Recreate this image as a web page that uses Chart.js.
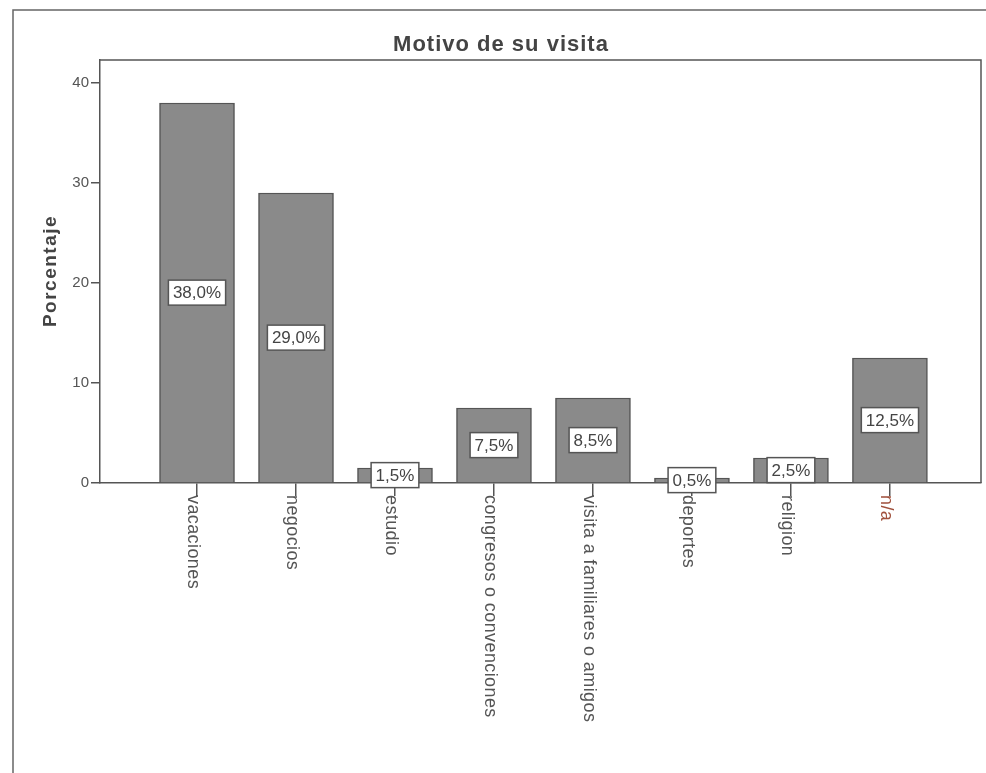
<!DOCTYPE html>
<html>
<head>
<meta charset="utf-8">
<script src="https://cdn.jsdelivr.net/npm/chart.js@4/dist/chart.umd.min.js"></script>
<style>
  body { margin: 0; background: #fff; }
  canvas { display: block; }
</style>
</head>
<body>
<canvas id="visit-chart" width="986" height="773"></canvas>
<script>
const categories = ['vacaciones', 'negocios', 'estudio', 'congresos o convenciones',
  'visita a familiares o amigos', 'deportes', 'religion', 'n/a'];
const percentages = [38.0, 29.0, 1.5, 7.5, 8.5, 0.5, 2.5, 12.5];
const yTicks = [0, 10, 20, 30, 40];
const labelColors = ['#555', '#555', '#555', '#555', '#555', '#555', '#555', '#a0503c'];

const FONT = "'Liberation Sans', Arial, sans-serif";
const INK = '#555';

function pct(v) {
  return v.toFixed(1).replace('.', ',') + '%';
}

// frame, titles, rotated category names and value boxes
const spssLook = {
  id: 'spssLook',
  afterDatasetsDraw(chart) {
    const ctx = chart.ctx;
    const meta = chart.getDatasetMeta(0);
    ctx.save();
    ctx.font = '17px ' + FONT;
    ctx.textAlign = 'center';
    ctx.textBaseline = 'middle';
    meta.data.forEach((bar, i) => {
      const text = pct(percentages[i]);
      const cy = (bar.y + bar.base) / 2;
      const w = ctx.measureText(text).width + 9;
      const h = 25;
      ctx.fillStyle = '#fff';
      ctx.fillRect(bar.x - w / 2, cy - h / 2, w, h);
      ctx.strokeStyle = INK;
      ctx.lineWidth = 1.5;
      ctx.strokeRect(bar.x - w / 2, cy - h / 2, w, h);
      ctx.fillStyle = '#444';
      ctx.fillText(text, bar.x, cy + 1);
    });
    ctx.restore();
  },
  afterDraw(chart) {
    const ctx = chart.ctx;
    const a = chart.chartArea;
    const xs = chart.scales.x;
    ctx.save();

    // outer border (only top and left show)
    ctx.strokeStyle = '#666';
    ctx.lineWidth = 1.5;
    ctx.beginPath();
    ctx.moveTo(13, 800);
    ctx.lineTo(13, 10);
    ctx.lineTo(990, 10);
    ctx.stroke();

    // plot frame top and right
    ctx.strokeStyle = INK;
    ctx.beginPath();
    ctx.moveTo(a.left, a.top);
    ctx.lineTo(a.right, a.top);
    ctx.lineTo(a.right, a.bottom);
    ctx.stroke();

    // title
    ctx.fillStyle = '#444';
    ctx.font = 'bold 22px ' + FONT;
    ctx.letterSpacing = '1px';
    ctx.textAlign = 'center';
    ctx.textBaseline = 'alphabetic';
    ctx.fillText('Motivo de su visita', 501, 51);

    // y axis title
    ctx.save();
    ctx.font = 'bold 19px ' + FONT;
    ctx.letterSpacing = '1.5px';
    ctx.translate(51, 271);
    ctx.rotate(-Math.PI / 2);
    ctx.textBaseline = 'middle';
    ctx.fillText('Porcentaje', 0, 0);
    ctx.restore();

    // category names, reading top to bottom
    ctx.font = '18px ' + FONT;
    ctx.letterSpacing = '0.4px';
    ctx.textAlign = 'left';
    ctx.textBaseline = 'alphabetic';
    categories.forEach((c, i) => {
      const x = xs.getPixelForValue(i);
      ctx.save();
      ctx.translate(x - 9, a.bottom + 12);
      ctx.rotate(Math.PI / 2);
      ctx.fillStyle = labelColors[i];
      ctx.fillText(c, 0, 0);
      ctx.restore();
    });
    ctx.restore();
  }
};

new Chart(document.getElementById('visit-chart'), {
  type: 'bar',
  data: {
    datasets: [{
      data: percentages.map((v, i) => ({ x: i, y: v })),
      backgroundColor: '#8a8a8a',
      borderColor: INK,
      borderWidth: 1.5,
      barThickness: 75
    }]
  },
  options: {
    responsive: false,
    animation: false,
    devicePixelRatio: 1,
    layout: { padding: { left: 0, top: 60, right: 5, bottom: 0 } },
    plugins: {
      legend: { display: false },
      tooltip: { enabled: false }
    },
    scales: {
      x: {
        type: 'linear',
        offset: false,
        min: -0.98,
        max: 7.92,
        afterBuildTicks: (s) => { s.ticks = categories.map((c, i) => ({ value: i })); },
        afterFit: (s) => { s.height = 290; },
        ticks: { display: false },
        grid: { offset: false, drawOnChartArea: false, drawTicks: true, tickLength: 13, color: INK, lineWidth: 1.5 },
        border: { color: INK, width: 1.5 }
      },
      y: {
        min: 0,
        max: 42.3,
        afterBuildTicks: (s) => { s.ticks = yTicks.map(v => ({ value: v })); },
        afterFit: (s) => { s.width = 100; },
        ticks: { font: { family: FONT, size: 15 }, color: INK, padding: 2 },
        grid: { drawOnChartArea: false, drawTicks: true, tickLength: 9, color: INK, lineWidth: 1.5 },
        border: { color: INK, width: 1.5 }
      }
    }
  },
  plugins: [spssLook]
});
</script>
</body>
</html>
